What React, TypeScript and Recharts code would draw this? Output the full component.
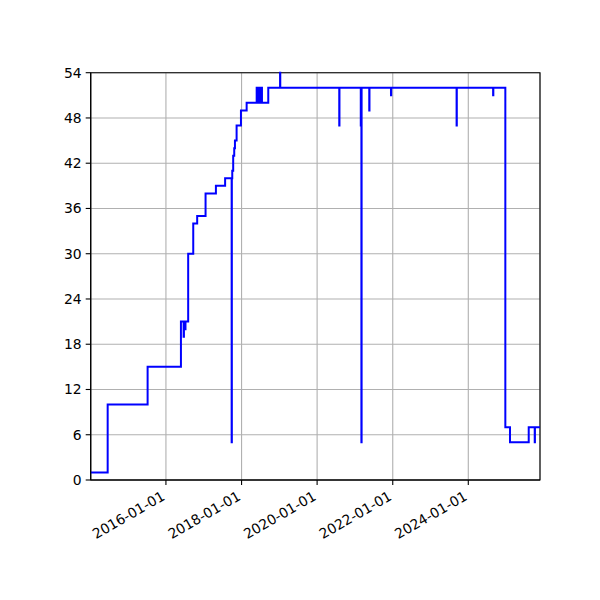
import { LineChart, Line, XAxis, YAxis, CartesianGrid, ReferenceArea } from 'recharts';

// step dates (start of each level) and the value held from that date on
const stepDates = [
    '2014-01-04', '2014-06-17', '2015-07-08', '2016-05-25', '2016-06-20', '2016-06-23',
    '2016-07-05', '2016-07-08', '2016-08-03', '2016-09-21', '2016-10-29', '2017-01-18',
    '2017-04-28', '2017-07-26', '2017-09-27', '2017-09-29', '2017-10-03', '2017-10-12',
    '2017-10-22', '2017-10-29', '2017-11-14', '2017-12-26', '2018-02-19', '2018-05-27',
    '2018-06-03', '2018-06-08', '2018-06-15', '2018-06-22', '2018-07-01', '2018-07-08',
    '2018-07-17', '2018-09-16', '2019-01-08', '2019-01-10', '2020-08-02', '2020-08-04',
    '2021-02-26', '2021-02-28', '2021-03-04', '2021-03-06', '2021-05-19', '2021-05-21',
    '2021-12-15', '2021-12-17', '2023-09-10', '2023-09-12', '2024-08-28', '2024-08-30',
    '2024-12-24', '2025-02-07', '2025-08-07', '2025-10-04', '2025-10-06', '2025-11-24',
];
const stepValues = [
    1, 10, 15, 21, 19, 21,
    20, 21, 30, 34, 35, 38,
    39, 40, 5, 40, 41, 43,
    44, 45, 47, 49, 50, 52,
    50, 52, 50, 52, 50, 52,
    50, 52, 54, 52, 47, 52,
    47, 52, 5, 52, 49, 52,
    51, 52, 47, 52, 51, 52,
    7, 5, 7, 5, 7, 7,
];

const xTickDates = ['2016-01-01', '2018-01-01', '2020-01-01', '2022-01-01', '2024-01-01'];
const yTicks = [0, 6, 12, 18, 24, 30, 36, 42, 48, 54];

const data = stepDates.map((d, i) => ({ t: Date.parse(d), v: stepValues[i] }));
const xStart = data[0].t;
const xEnd = data[data.length - 1].t;
const xTicks = xTickDates.map((d) => Date.parse(d));

const FONT = 'DejaVu Sans, sans-serif';

const DateTick = ({ x, y, payload }: any) => {
    const label = new Date(payload.value).toISOString().slice(0, 10);
    const ax = x;
    const ay = y + 12;
    return (
        <text
            x={ax}
            y={ay}
            transform={`rotate(-30, ${ax}, ${ay})`}
            textAnchor="end"
            fill="#000"
            fontSize={13.9}
            fontFamily={FONT}
        >
            {label}
        </text>
    );
};

export default function App() {
    return (
        <div style={{ position: 'absolute', left: 0, top: 0, width: 600, height: 600, background: '#fff' }}>
            <LineChart width={600} height={600} data={data} margin={{ top: 72.7, right: 60, left: 0, bottom: 0 }}>
                <CartesianGrid stroke="#b0b0b0" strokeWidth={1.1} />
                <XAxis
                    dataKey="t"
                    type="number"
                    domain={[xStart, xEnd]}
                    allowDataOverflow
                    ticks={xTicks}
                    interval={0}
                    height={120}
                    tickSize={5}
                    tickMargin={2}
                    tickLine={{ stroke: '#000', strokeWidth: 1.1 }}
                    axisLine={{ stroke: '#000', strokeWidth: 1.1 }}
                    tick={<DateTick />}
                />
                <YAxis
                    type="number"
                    domain={[0, 54]}
                    ticks={yTicks}
                    interval={0}
                    width={90.7}
                    tickSize={5}
                    tickMargin={4}
                    tickLine={{ stroke: '#000', strokeWidth: 1.1 }}
                    axisLine={{ stroke: '#000', strokeWidth: 1.1 }}
                    tick={{ fill: '#000', fontSize: 13.9, fontFamily: FONT }}
                />
                <ReferenceArea x1={xStart} x2={xEnd} y1={0} y2={54} fill="none" stroke="#000" strokeWidth={1.1} />
                <Line
                    type="stepAfter"
                    dataKey="v"
                    stroke="#0000ff"
                    strokeWidth={2}
                    dot={false}
                    isAnimationActive={false}
                />
            </LineChart>
        </div>
    );
}
